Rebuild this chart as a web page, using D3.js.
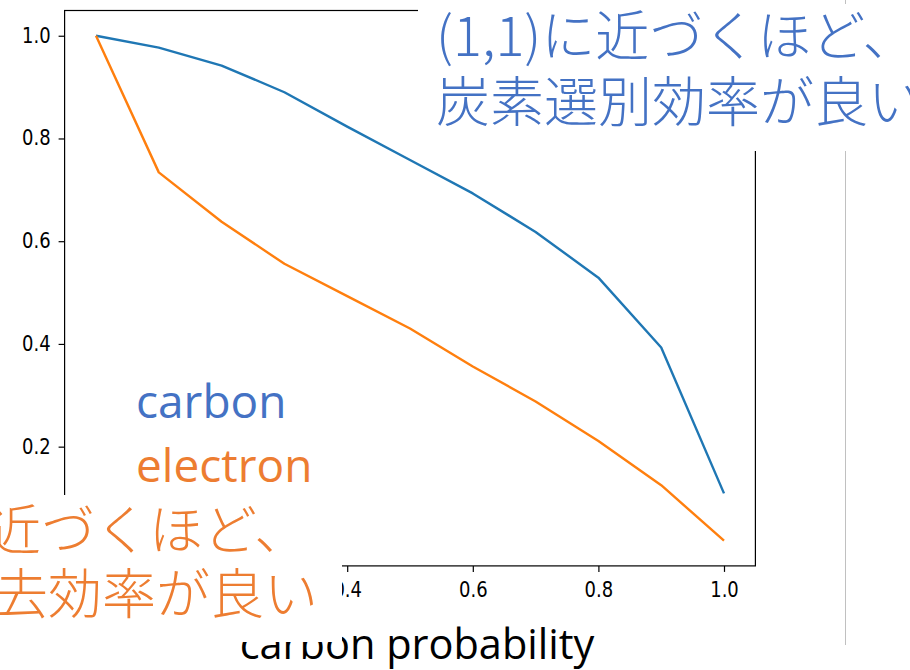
<!DOCTYPE html>
<html>
<head>
<meta charset="utf-8">
<script src="https://cdn.jsdelivr.net/npm/d3@7"></script>
<style>
  html, body { margin: 0; padding: 0; background: #fff; }
  svg { display: block; }
</style>
</head>
<body>
<svg id="chart" width="910" height="670"></svg>
<script>
// ---- data ----
const thresholds = [0.0, 0.1, 0.2, 0.3, 0.4, 0.5, 0.6, 0.7, 0.8, 0.9, 1.0];
const carbonValues = [1.0, 0.977, 0.942, 0.890, 0.823, 0.758, 0.693, 0.618, 0.529, 0.393, 0.109];
const electronValues = [1.0, 0.734, 0.638, 0.556, 0.493, 0.430, 0.356, 0.288, 0.211, 0.125, 0.017];
const xTickValues = [0.0, 0.2, 0.4, 0.6, 0.8, 1.0];
const yTickValues = [0.0, 0.2, 0.4, 0.6, 0.8, 1.0];
const seriesNames = ["carbon", "electron"];
const xLabel = "carbon probability";
const noteTopLines = ["(1,1)に近づくほど、", "炭素選別効率が良い"];
const noteBottomLines = ["近づくほど、", "去効率が良い"];

// ---- layout ----
const svg = d3.select("#chart");
const W = 910, H = 670;
const plot = { left: 64.6, right: 755.4, top: 10.5, bottom: 565.9 };
const lineColors = ["#1f77b4", "#ff7f0e"];
const textColors = ["#4472C4", "#ED7D31"];

svg.append("rect").attr("width", W).attr("height", H).attr("fill", "#fff");

// slide guide line
svg.append("line")
  .attr("x1", 845.5).attr("x2", 845.5).attr("y1", 0).attr("y2", 645)
  .attr("stroke", "#c0c0c0").attr("stroke-width", 1);

// scales with matplotlib-like 5% margins
const xExt = d3.extent(thresholds);
const xPad = (xExt[1] - xExt[0]) * 0.05;
const allY = carbonValues.concat(electronValues);
const yExt = d3.extent(allY);
const yPad = (yExt[1] - yExt[0]) * 0.05;
const x = d3.scaleLinear().domain([xExt[0] - xPad, xExt[1] + xPad]).range([plot.left, plot.right]);
const y = d3.scaleLinear().domain([yExt[0] - yPad, yExt[1] + yPad]).range([plot.bottom, plot.top]);

// lines
const series = [carbonValues, electronValues];
const lineGen = d3.line().x((d, i) => x(thresholds[i])).y(d => y(d));
series.forEach((vals, k) => {
  svg.append("path")
    .datum(vals)
    .attr("d", lineGen)
    .attr("fill", "none")
    .attr("stroke", lineColors[k])
    .attr("stroke-width", 2.4)
    .attr("stroke-linejoin", "round");
});

// axes
const fmt = d3.format(".1f");
const xAxis = svg.append("g")
  .attr("transform", `translate(0,${plot.bottom})`)
  .call(d3.axisBottom(x).tickValues(xTickValues).tickFormat(fmt).tickSize(6).tickPadding(6));
const yAxis = svg.append("g")
  .attr("transform", `translate(${plot.left},0)`)
  .call(d3.axisLeft(y).tickValues(yTickValues).tickFormat(fmt).tickSize(6).tickPadding(8));
[xAxis, yAxis].forEach(g => {
  g.select(".domain").remove();
  g.selectAll(".tick line").attr("stroke", "#000").attr("stroke-width", 1.2);
  g.selectAll(".tick text")
    .attr("fill", "#000")
    .style("font-family", "'DejaVu Sans', sans-serif")
    .style("font-size", "18px");
});
xAxis.selectAll(".tick text").attr("dy", null).attr("y", 0)
  .attr("transform", "translate(0,31) scale(1,1.15)");
yAxis.selectAll(".tick text").attr("dy", null).attr("x", 0)
  .attr("transform", "translate(-14,6.5) scale(1,1.15)");

// spines
svg.append("rect")
  .attr("x", plot.left).attr("y", plot.top)
  .attr("width", plot.right - plot.left).attr("height", plot.bottom - plot.top)
  .attr("fill", "none").attr("stroke", "#000").attr("stroke-width", 1.2);

// series labels
seriesNames.forEach((name, k) => {
  svg.append("text")
    .attr("x", 136).attr("y", 418 + k * 64)
    .attr("fill", textColors[k])
    .style("font-family", "'Open Sans', 'Noto Sans', sans-serif")
    .style("font-size", "46px")
    .text(name);
});

// x label
svg.append("text")
  .attr("x", 417).attr("y", 659)
  .attr("text-anchor", "middle")
  .attr("fill", "#000")
  .style("font-family", "'Open Sans', 'Noto Sans', sans-serif")
  .style("font-size", "41.5px")
  .text(xLabel);

// annotation boxes (white text boxes on the slide)
svg.append("rect").attr("x", 418).attr("y", 4).attr("width", 492).attr("height", 147).attr("fill", "#fff");
svg.append("rect").attr("x", 0).attr("y", 495).attr("width", 342).attr("height", 147).attr("fill", "#fff");

const cjkFont = "'Noto Sans CJK JP Light', 'Noto Sans CJK JP', 'Noto Sans', sans-serif";
noteTopLines.forEach((t, i) => {
  svg.append("text")
    .attr("x", 436).attr("y", 56 + i * 66)
    .attr("fill", textColors[0])
    .style("font-family", cjkFont)
    .style("font-weight", 300)
    .style("font-size", "54px")
    .text(t);
});
noteBottomLines.forEach((t, i) => {
  svg.append("text")
    .attr("x", i === 0 ? -13 : -6).attr("y", 550 + i * 64)
    .attr("fill", textColors[1])
    .style("font-family", cjkFont)
    .style("font-weight", 300)
    .style("font-size", "54px")
    .text(t);
});
</script>
</body>
</html>
